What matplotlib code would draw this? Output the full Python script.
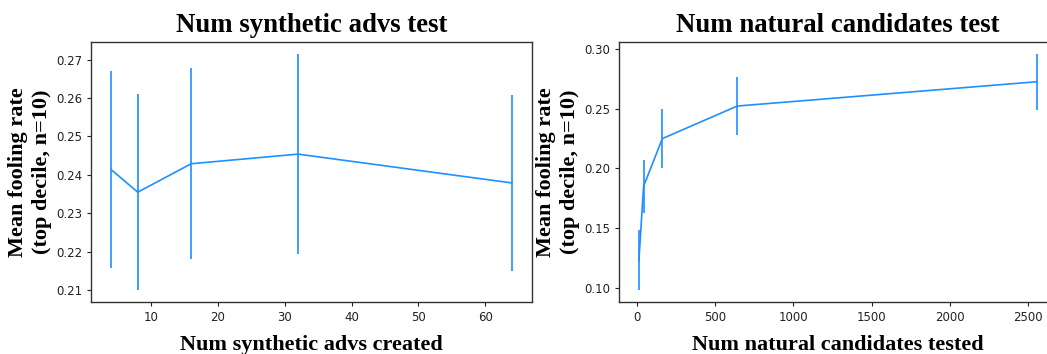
import matplotlib
matplotlib.use("Agg")
import matplotlib.pyplot as plt

# Left panel data
syn_x = [4, 8, 16, 32, 64]
syn_mean = [0.2414, 0.2355, 0.2429, 0.2454, 0.2379]
syn_err = [0.0256, 0.0255, 0.0248, 0.0261, 0.0228]

# Right panel data
nat_x = [10, 40, 160, 640, 2560]
nat_mean = [0.123, 0.185, 0.225, 0.2523, 0.2727]
nat_err = [0.025, 0.0224, 0.0245, 0.024, 0.0233]

titles = ["Num synthetic advs test", "Num natural candidates test"]
xlabels = ["Num synthetic advs created", "Num natural candidates tested"]
ylabel = "Mean fooling rate\n(top decile, n=10)"

color = "#1E90FF"
serif = ["Liberation Serif", "DejaVu Serif"]

fig = plt.figure(figsize=(10.47, 3.54), dpi=100)
ax1 = fig.add_axes([91/1047, 52/354, 441/1047, 260/354])
ax2 = fig.add_axes([619/1047, 52/354, 438/1047, 260/354])

for ax, x, m, e, t, xl in [(ax1, syn_x, syn_mean, syn_err, titles[0], xlabels[0]),
                           (ax2, nat_x, nat_mean, nat_err, titles[1], xlabels[1])]:
    ax.errorbar(x, m, yerr=e, color=color, lw=1.2, elinewidth=1.2, capsize=0)
    ax.set_title(t, family=serif, fontweight="bold", fontsize=19.3, pad=7)
    ax.set_xlabel(xl, family=serif, fontweight="bold", fontsize=16, labelpad=8)
    ax.set_ylabel(ylabel, family=serif, fontweight="bold", fontsize=16,
                  linespacing=1.25, labelpad=3)
    ax.tick_params(labelsize=8.5, colors="#222222", length=3)
    for s in ax.spines.values():
        s.set_color("#333333")
        s.set_linewidth(1.0)

ax2.set_xticks([0, 500, 1000, 1500, 2000, 2500])
ax2.set_yticks([0.10, 0.15, 0.20, 0.25, 0.30])
ax2.set_ylim(0.088, 0.306)

fig.savefig("out.png", dpi=100)
